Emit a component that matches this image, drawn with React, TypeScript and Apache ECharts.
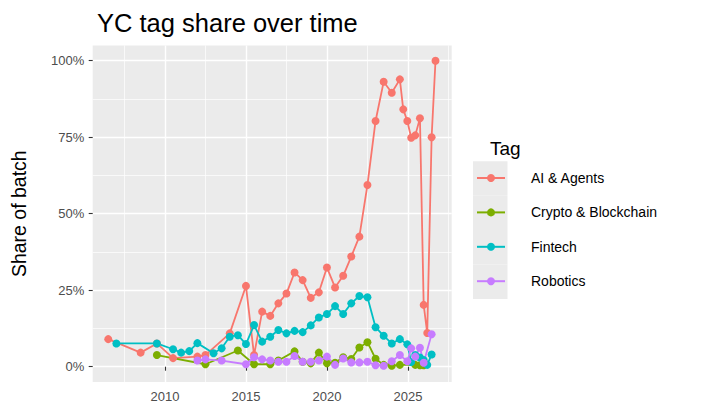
import React, { useEffect, useRef } from "react";
import * as echarts from "echarts";

const FONT = '"Liberation Sans", Arial, Helvetica, sans-serif';

const tagNames = ["AI & Agents", "Crypto & Blockchain", "Fintech", "Robotics"];
const tagColors = ["#F8766D", "#7CAE00", "#00BFC4", "#C77CFF"];

const aiYears = [2006.5, 2008.5, 2009.5, 2010.5, 2012.0, 2012.5, 2014.0, 2015.0, 2015.5, 2016.0, 2016.5, 2017.0, 2017.5, 2018.0, 2018.5, 2019.0, 2019.5, 2020.0, 2020.5, 2021.0, 2021.5, 2022.0, 2022.5, 2023.0, 2023.5, 2024.0, 2024.5, 2024.71, 2024.96, 2025.2, 2025.45, 2025.74, 2025.97, 2026.19, 2026.46, 2026.7];
const aiShare = [9.0, 4.6, 7.6, 2.8, 3.3, 3.8, 10.9, 26.4, 3.8, 18.0, 16.6, 20.7, 23.9, 30.8, 28.3, 22.5, 24.3, 32.4, 25.9, 29.7, 36.0, 42.5, 59.4, 80.3, 93.1, 89.5, 93.9, 84.1, 80.3, 74.8, 75.6, 81.2, 20.2, 11.0, 75.0, 100.0];

const cryptoYears = [2009.5, 2012.5, 2014.5, 2015.5, 2016.5, 2017.0, 2018.0, 2018.5, 2019.0, 2019.5, 2020.0, 2020.5, 2021.0, 2021.5, 2022.0, 2022.5, 2023.0, 2023.5, 2024.0, 2024.5, 2025.45, 2025.74, 2025.97];
const cryptoShare = [3.8, 0.8, 5.3, 0.8, 0.8, 2.0, 5.0, 1.6, 1.1, 4.6, 1.1, 1.3, 3.1, 2.5, 6.3, 8.0, 2.6, 0.6, 0.3, 0.6, 0.6, 0.5, 0.5];

const fintechYears = [2007.0, 2009.5, 2010.5, 2011.0, 2011.5, 2012.0, 2013.0, 2013.5, 2014.0, 2014.5, 2015.0, 2015.5, 2016.0, 2016.5, 2017.0, 2017.5, 2018.0, 2018.5, 2019.0, 2019.5, 2020.0, 2020.5, 2021.0, 2021.5, 2022.0, 2022.5, 2023.0, 2023.5, 2024.0, 2024.5, 2024.96, 2025.2, 2025.45, 2025.74, 2025.97, 2026.19, 2026.46];
const fintechShare = [7.6, 7.6, 5.7, 4.6, 5.1, 7.7, 4.4, 6.0, 9.8, 10.3, 7.4, 13.6, 8.2, 9.8, 12.0, 10.9, 11.7, 11.3, 13.5, 16.1, 17.2, 19.8, 17.2, 20.7, 23.1, 22.7, 12.9, 10.1, 7.6, 9.0, 7.3, 1.5, 3.8, 3.0, 2.2, 0.6, 4.0];

const roboticsYears = [2012.0, 2012.5, 2013.5, 2015.0, 2015.5, 2016.0, 2016.5, 2017.0, 2017.5, 2018.0, 2018.5, 2019.0, 2019.5, 2020.0, 2020.5, 2021.0, 2021.5, 2022.0, 2022.5, 2023.0, 2023.5, 2024.0, 2024.5, 2024.96, 2025.2, 2025.45, 2025.74, 2025.97, 2026.46];
const roboticsShare = [2.0, 2.4, 2.0, 0.8, 3.1, 2.4, 2.0, 1.6, 1.6, 3.5, 1.6, 1.6, 2.0, 3.3, 0.6, 2.7, 1.4, 1.4, 1.6, 0.5, 0.3, 1.8, 3.8, 1.8, 6.0, 3.3, 6.2, 1.3, 10.6];

const xMajorTicks = [2010, 2015, 2020, 2025];
const xMinorTicks = [2007.5, 2012.5, 2017.5, 2022.5, 2027.5];
const yMajorTicks = [0, 25, 50, 75, 100];
const yMinorTicks = [12.5, 37.5, 62.5, 87.5];

const X_MIN = 2005.54;
const X_MAX = 2027.7;
const Y_MIN = -5;
const Y_MAX = 105;

const seriesYears = [aiYears, cryptoYears, fintechYears, roboticsYears];
const seriesShare = [aiShare, cryptoShare, fintechShare, roboticsShare];

export default function App() {
  const ref = useRef<HTMLDivElement>(null);

  useEffect(() => {
    if (!ref.current) return;
    const chart = echarts.init(ref.current, undefined, { renderer: "svg" });

    const pairs = seriesYears.map((ys, i) => ys.map((x, j) => [x, seriesShare[i][j]]));

    const lineSeries = tagNames.map((name, i) => ({
      type: "line",
      name,
      data: pairs[i],
      xAxisIndex: 0,
      yAxisIndex: 0,
      symbol: "circle",
      showSymbol: false,
      symbolSize: 8,
      color: tagColors[i],
      lineStyle: { color: tagColors[i], width: 1.8 },
      itemStyle: { color: tagColors[i] },
      emphasis: { disabled: true },
      silent: true,
      z: 2,
    }));
    const pointSeries = tagNames.map((name, i) => ({
      type: "scatter",
      name,
      data: pairs[i],
      xAxisIndex: 0,
      yAxisIndex: 0,
      symbol: "circle",
      symbolSize: 8,
      itemStyle: { color: tagColors[i], opacity: 1 },
      emphasis: { disabled: true },
      silent: true,
      z: 3,
    }));

    const keyTop = 161.3;
    const keyH = 34.4;
    const keyRects = tagNames.map((_, i) => ({
      type: "rect",
      shape: { x: 473, y: keyTop + i * keyH, width: 34.5, height: keyH },
      style: { fill: "#EBEBEB", lineWidth: 0 },
      silent: true,
      z: 0,
    }));

    const option = {
      animation: false,
      backgroundColor: "#FFFFFF",
      textStyle: { fontFamily: FONT },
      title: [
        {
          text: "YC tag share over time",
          left: 92,
          top: 5,
          textStyle: { fontFamily: FONT, fontSize: 25.5, fontWeight: "normal", color: "#000000" },
        },
        {
          text: "Tag",
          left: 485,
          top: 134,
          textStyle: { fontFamily: FONT, fontSize: 19, fontWeight: "normal", color: "#000000" },
        },
      ],
      grid: {
        left: 92.7,
        right: 711 - 451.7,
        top: 45.4,
        bottom: 418 - 382,
        show: true,
        backgroundColor: "#EBEBEB",
        borderWidth: 0,
      },
      xAxis: [
        {
          type: "value",
          min: X_MIN,
          max: X_MAX,
          axisLine: { show: false },
          axisTick: { show: true, length: 4, lineStyle: { color: "#333333", width: 1.1 }, customValues: xMajorTicks },
          axisLabel: {
            customValues: xMajorTicks,
            color: "#4D4D4D",
            fontSize: 13,
            margin: 8,
            fontFamily: FONT,
            formatter: (v: number) => String(v),
          },
          splitLine: { show: true, lineStyle: { color: "#FFFFFF", width: 1.4 } },
          z: 1,
        },
        {
          type: "value",
          min: X_MIN,
          max: X_MAX,
          axisLine: { show: false },
          axisTick: { show: false, customValues: xMinorTicks },
          axisLabel: { show: false, customValues: xMinorTicks },
          splitLine: { show: true, lineStyle: { color: "#FFFFFF", width: 0.7 } },
          z: 0,
        },
      ],
      yAxis: [
        {
          type: "value",
          min: Y_MIN,
          max: Y_MAX,
          name: "Share of batch",
          nameLocation: "middle",
          nameRotate: 90,
          nameGap: 64,
          nameTextStyle: { fontFamily: FONT, fontSize: 19.5, color: "#000000" },
          axisLine: { show: false },
          axisTick: { show: true, length: 4, lineStyle: { color: "#333333", width: 1.1 }, customValues: yMajorTicks },
          axisLabel: {
            customValues: yMajorTicks,
            color: "#4D4D4D",
            fontSize: 13,
            margin: 8.5,
            fontFamily: FONT,
            formatter: (v: number) => `${v}%`,
          },
          splitLine: { show: true, lineStyle: { color: "#FFFFFF", width: 1.4 } },
          z: 1,
        },
        {
          type: "value",
          min: Y_MIN,
          max: Y_MAX,
          axisLine: { show: false },
          axisTick: { show: false, customValues: yMinorTicks },
          axisLabel: { show: false, customValues: yMinorTicks },
          splitLine: { show: true, lineStyle: { color: "#FFFFFF", width: 0.7 } },
          z: 0,
        },
      ],
      legend: {
        orient: "vertical",
        left: 476,
        top: 170,
        padding: 0,
        itemWidth: 28,
        itemHeight: 10,
        itemGap: 18.4,
        data: tagNames,
        selectedMode: false,
        textStyle: {
          fontFamily: FONT,
          fontSize: 14,
          color: "#000000",
          lineHeight: 16,
          padding: [0, 0, 0, 21],
        },
      },
      graphic: keyRects,
      series: [...lineSeries, ...pointSeries],
    };

    chart.setOption(option as any);
    return () => chart.dispose();
  }, []);

  return (
    <div
      ref={ref}
      style={{ position: "absolute", left: 0, top: 0, width: 711, height: 418 }}
    />
  );
}
